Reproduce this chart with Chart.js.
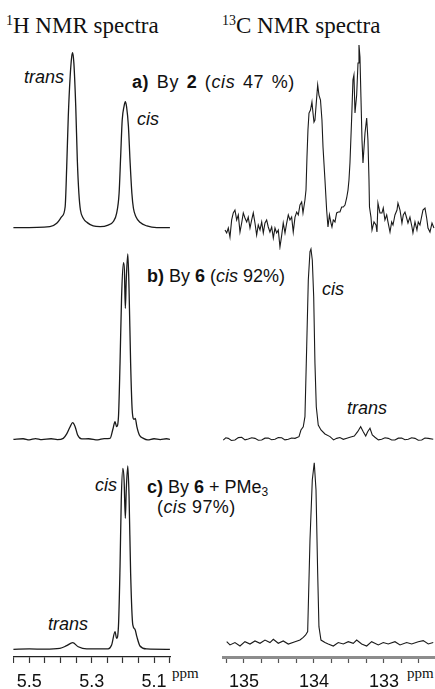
<!DOCTYPE html>
<html>
<head>
<meta charset="utf-8">
<script src="https://cdn.jsdelivr.net/npm/chart.js@4.4.1/dist/chart.umd.min.js"></script>
<style>
  body { margin: 0; background: #fff; }
  #page { position: relative; width: 435px; height: 689px; overflow: hidden; }
  .panel { position: absolute; }
  .lbl { position: absolute; font-family: "Liberation Sans", Arial, sans-serif; font-size: 18px; line-height: 1; color: #111; white-space: nowrap; }
  .ttl { position: absolute; font-family: "Liberation Serif", "Times New Roman", serif; font-size: 23px; line-height: 1; color: #111; white-space: nowrap; }
  .ttl sup { font-size: 14px; vertical-align: 8px; line-height: 0; }
  .unit { position: absolute; font-family: "Liberation Serif", "Times New Roman", serif; font-size: 15px; line-height: 1; color: #111; }
  .lbl sub { font-size: 12px; vertical-align: -3px; line-height: 0; }
</style>
</head>
<body>
<div id="page">
  <div class="ttl" style="left:6px;top:14px;"><sup>1</sup>H NMR spectra</div>
  <div class="ttl" style="left:222px;top:14px;"><sup>13</sup>C NMR spectra</div>

  <div class="lbl" style="left:132px;top:73px;letter-spacing:0.6px;word-spacing:2px;"><b>a)</b> By <b>2</b> (<i>cis</i> 47 %)</div>
  <div class="lbl" style="left:24px;top:68px;"><i>trans</i></div>
  <div class="lbl" style="left:137px;top:110px;"><i>cis</i></div>

  <div class="lbl" style="left:147px;top:267px;"><b>b)</b> By <b>6</b> (<i>cis</i> 92%)</div>
  <div class="lbl" style="left:322px;top:280px;"><i>cis</i></div>
  <div class="lbl" style="left:347px;top:399px;"><i>trans</i></div>

  <div class="lbl" style="left:147px;top:478px;"><b>c)</b> By <b>6</b> + PMe<sub>3</sub></div>
  <div class="lbl" style="left:157px;top:498px;letter-spacing:0.4px;">(<i>cis</i> 97%)</div>
  <div class="lbl" style="left:95px;top:476px;"><i>cis</i></div>
  <div class="lbl" style="left:48px;top:615px;"><i>trans</i></div>

  <div class="unit" style="left:172px;top:666px;">ppm</div>
  <div class="unit" style="left:407px;top:666px;">ppm</div>
</div>

<script>
// axis ticks (ppm)
const hTicks = [5.55, 5.5, 5.45, 5.4, 5.35, 5.3, 5.25, 5.2, 5.15, 5.1, 5.05];
const hTickLabels = ['5.5', '5.3', '5.1'];
const cTicks = [135.25, 135, 134.75, 134.5, 134.25, 134, 133.75, 133.5, 133.25, 133, 132.75, 132.5];
const cTickLabels = ['135', '134', '133'];

// 1H spectra: [ppm, relative intensity]
const hA = [[5.551,0],[5.434,0.6],[5.412,2.5],[5.396,6.3],[5.385,12],[5.380,34.9],[5.375,63.4],[5.369,86.3],[5.364,97.7],[5.361,100],[5.357,93.9],[5.351,69.1],[5.346,38.7],[5.341,19.7],[5.336,10.1],[5.327,5.4],[5.314,2.9],[5.295,1.0],[5.273,0.6],[5.247,1.5],[5.231,3.4],[5.220,8.2],[5.212,19.7],[5.207,40.6],[5.202,61.5],[5.196,69.5],[5.192,72],[5.188,69.1],[5.182,57.7],[5.177,38.7],[5.171,19.7],[5.166,11.1],[5.158,6.3],[5.145,3.1],[5.123,1.0],[5.091,0],[5.049,0]];

const hB = [[5.551,0],[5.52,0.3],[5.50,-0.3],[5.48,0.4],[5.46,-0.2],[5.43,0.3],[5.41,-0.2],[5.391,0.5],[5.380,2.9],[5.369,6.8],[5.361,9.0],[5.353,6.8],[5.345,2.3],[5.332,0.2],[5.31,0.3],[5.28,-0.3],[5.26,0.4],[5.241,0.5],[5.232,5.4],[5.225,9.5],[5.220,6.8],[5.214,12.2],[5.209,41],[5.204,77],[5.198,95.3],[5.195,91.4],[5.192,70.7],[5.189,86],[5.184,100],[5.180,80.6],[5.175,41],[5.170,15.8],[5.164,10.8],[5.160,11.3],[5.155,6.8],[5.147,2.3],[5.134,0.5],[5.12,-0.3],[5.10,0.3],[5.08,-0.2],[5.06,0.3],[5.049,0]];

const hC = [[5.551,0],[5.50,0.2],[5.45,0.1],[5.402,0.5],[5.380,2.0],[5.361,3.6],[5.343,1.4],[5.316,0.2],[5.247,0.2],[5.236,2.3],[5.225,9.6],[5.220,6.0],[5.214,12.7],[5.209,45],[5.205,81.5],[5.200,98.7],[5.196,92.4],[5.192,71.5],[5.189,86.9],[5.184,100],[5.180,83.3],[5.175,41.5],[5.168,13.3],[5.161,10.9],[5.155,6.9],[5.145,1.8],[5.123,0.2],[5.049,0]];

// 13C spectra: [ppm, relative intensity]
const cA = [[135.271,-2.8],[135.247,-4.4],[135.224,-1.7],[135.200,-6.7],[135.176,2.8],[135.153,6.7],[135.129,8.3],[135.104,2.8],[135.081,5.6],[135.057,-3.9],[135.033,1.1],[135.010,6.7],[134.986,3.9],[134.961,1.7],[134.939,4.4],[134.914,-1.7],[134.890,2.8],[134.867,6.7],[134.843,1.1],[134.819,-5.6],[134.796,0],[134.771,-2.8],[134.747,1.7],[134.724,-4.4],[134.700,1.1],[134.676,2.8],[134.653,-1.1],[134.629,-3.9],[134.604,-1.1],[134.581,-7.2],[134.557,-1.7],[134.533,-4.4],[134.510,-2.8],[134.486,-12.2],[134.461,-5.6],[134.439,1.1],[134.414,-4.4],[134.390,1.1],[134.367,5.6],[134.343,2.8],[134.319,4.4],[134.296,-3.9],[134.271,4.4],[134.247,7.2],[134.224,5.6],[134.200,11.1],[134.176,12.8],[134.157,6.7],[134.129,13.9],[134.114,19.4],[134.100,37.8],[134.086,52.8],[134.071,62.2],[134.050,63.9],[134.029,68.3],[134.014,62.2],[134.000,57.2],[133.986,58.3],[133.964,69.4],[133.947,77.8],[133.929,72.2],[133.907,69.4],[133.886,58.3],[133.871,43.3],[133.843,25],[133.819,8.3],[133.800,-1.1],[133.779,5.6],[133.757,1.1],[133.743,-1.1],[133.724,2.8],[133.700,1.7],[133.676,6.7],[133.653,7.2],[133.629,7.2],[133.604,10],[133.581,10],[133.557,11.1],[133.533,15],[133.514,19.4],[133.500,25],[133.486,34.4],[133.461,60],[133.443,80.6],[133.429,83.3],[133.414,62.2],[133.390,72.2],[133.371,90],[133.357,100],[133.343,93.3],[133.329,71.1],[133.314,47.2],[133.300,34.4],[133.271,51.1],[133.247,59.4],[133.229,47.2],[133.214,25],[133.207,10],[133.186,4.4],[133.171,-2.8],[133.143,1.7],[133.114,0],[133.100,-3.9],[133.086,12.2],[133.057,6.7],[133.029,6.7],[133.010,9.4],[132.986,2.8],[132.961,5.6],[132.943,1.7],[132.914,-3.9],[132.890,1.7],[132.871,0],[132.843,5.6],[132.814,8.3],[132.800,12.2],[132.771,8.3],[132.743,1.1],[132.724,5.6],[132.700,7.2],[132.676,3.9],[132.657,1.1],[132.629,4.4],[132.600,-1.1],[132.586,-4.4],[132.557,1.7],[132.529,-2.8],[132.510,1.7],[132.486,0],[132.457,5.6],[132.443,8.3],[132.414,9.4],[132.390,3.9],[132.371,-1.7],[132.343,-3.9],[132.314,1.1],[132.286,-1.7]];

const cB = [[135.296,-0.4],[135.260,0.8],[135.224,0.5],[135.180,-0.6],[135.129,-0.4],[135.080,0.9],[135.033,1.1],[134.985,-0.3],[134.939,0.2],[134.890,0.8],[134.843,0.5],[134.795,-0.5],[134.747,-0.4],[134.700,0.6],[134.653,0.7],[134.605,-0.2],[134.557,0],[134.510,0.9],[134.461,0.8],[134.415,-0.3],[134.367,0],[134.320,0.7],[134.271,0.5],[134.214,1.4],[134.186,4.9],[134.153,6.6],[134.129,11.9],[134.104,48.7],[134.081,83.7],[134.057,98.6],[134.043,100],[134.024,94.2],[134.004,74.9],[133.986,39.9],[133.967,17.1],[133.939,7.5],[133.900,4.9],[133.843,2.8],[133.771,1.4],[133.720,-0.3],[133.676,0.5],[133.630,0.9],[133.581,0],[133.530,0.6],[133.486,1.1],[133.424,1.7],[133.376,4.0],[133.333,6.6],[133.296,4.0],[133.261,1.7],[133.233,4.0],[133.200,5.8],[133.167,2.3],[133.129,1.1],[133.080,-0.3],[133.033,0],[132.985,0.8],[132.939,0.5],[132.890,-0.4],[132.843,-0.4],[132.795,0.6],[132.747,0.7],[132.700,-0.2],[132.653,0],[132.605,0.8],[132.557,0.5],[132.510,-0.5],[132.461,-0.4],[132.415,0.7],[132.367,0.5],[132.296,0]];

const cC = [[135.247,0.9],[135.200,-0.9],[135.129,0.4],[135.057,-1.5],[134.986,0.9],[134.914,-0.4],[134.843,1.3],[134.771,0],[134.700,1.8],[134.629,0.4],[134.581,2.2],[134.510,0],[134.439,1.3],[134.367,-0.4],[134.271,0.9],[134.200,1.8],[134.153,3.3],[134.119,4.6],[134.090,6.5],[134.057,57.2],[134.024,90.4],[133.996,100],[133.971,84.9],[133.947,38.7],[133.929,9.2],[133.900,1.8],[133.843,0.4],[133.796,-0.4],[133.724,-1.5],[133.653,0.4],[133.581,-0.4],[133.510,0.9],[133.439,0],[133.390,1.8],[133.319,-0.4],[133.247,-1.5],[133.176,0.9],[133.081,-0.9],[133.010,0.4],[132.939,-0.4],[132.843,0.9],[132.771,-0.9],[132.676,0.4],[132.604,-0.4],[132.510,0.9],[132.439,1.5],[132.367,-0.4],[132.296,0.4]];

const AXIS_H = 32;
const page = document.getElementById('page');

// box: canvas placement; basePx / peakPx: where 0 and 100 sit on the page
function drawSpectrum(points, box, basePx, peakPx, xr, axis) {
    const holder = document.createElement('div');
    holder.className = 'panel';
    holder.style.left = box.left + 'px';
    holder.style.top = box.top + 'px';
    const canvas = document.createElement('canvas');
    canvas.width = box.width;
    canvas.height = box.height;
    holder.appendChild(canvas);
    page.appendChild(holder);

    const plotBottom = box.top + box.height - (axis ? AXIS_H : 0);
    const span = basePx - peakPx;
    const yMax = 100 * (basePx - box.top) / span;
    const yMin = -100 * (plotBottom - basePx) / span;

    const xScale = {
        type: 'linear', reverse: true, min: xr[0], max: xr[1],
        display: !!axis
    };
    if (axis) {
        Object.assign(xScale, {
            border: { display: true, color: axis.lineColor, width: axis.lineWidth },
            grid: { display: true, drawOnChartArea: false, drawTicks: true, tickLength: 6, tickColor: axis.tickColor, tickWidth: 1.2 },
            ticks: {
                autoSkip: false, maxRotation: 0, padding: 8, color: '#111',
                font: { family: "'Liberation Sans', Arial, sans-serif", size: 18 },
                callback: v => axis.labels.includes(String(v)) ? String(v) : ''
            },
            afterBuildTicks: s => { s.ticks = axis.ticks.map(v => ({ value: v })); },
            afterFit: s => {
                s.height = AXIS_H;
                // no side padding: keep the ppm scale aligned with the panels above
                s.paddingLeft = 0;
                s.paddingRight = 0;
            }
        });
    }

    new Chart(canvas, {
        type: 'line',
        data: {
            datasets: [{
                data: points.map(p => ({ x: p[0], y: p[1] })),
                borderColor: '#1a1a1a',
                borderWidth: box.lw || 1.1,
                cubicInterpolationMode: box.smooth ? 'monotone' : 'default',
                tension: 0,
                pointRadius: 0,
                clip: false
            }]
        },
        options: {
            responsive: false,
            animation: false,
            layout: { padding: 0 },
            plugins: { legend: { display: false }, tooltip: { enabled: false } },
            scales: {
                x: xScale,
                y: { display: false, min: yMin, max: yMax }
            }
        }
    });
}

const hRange = [5.0455, 5.5523];
const cRange = [132.271, 135.314];
const hAxis = { ticks: hTicks, labels: hTickLabels, lineColor: '#222', lineWidth: 1.3, tickColor: '#333' };
const cAxis = { ticks: cTicks, labels: cTickLabels, lineColor: '#8c8c8c', lineWidth: 3, tickColor: '#555' };

drawSpectrum(hA, { left: 13, top: 40, width: 158, height: 200, smooth: true, lw: 1.3 }, 227.7, 52.7, hRange);
drawSpectrum(cA, { left: 222, top: 30, width: 213, height: 220 }, 225, 45, cRange);
drawSpectrum(hB, { left: 13, top: 240, width: 158, height: 210, smooth: true, lw: 1.3 }, 439.3, 254, hRange);
drawSpectrum(cB, { left: 222, top: 240, width: 213, height: 210 }, 439.3, 249, cRange);
drawSpectrum(hC, { left: 13, top: 450, width: 158, height: 239, smooth: true, lw: 1.3 }, 649.3, 466, hRange, hAxis);
drawSpectrum(cC, { left: 222, top: 450, width: 213, height: 239 }, 643.3, 462.7, cRange, cAxis);
</script>
</body>
</html>
